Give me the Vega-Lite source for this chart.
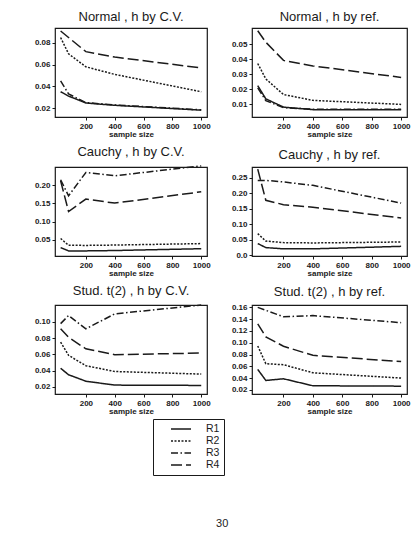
{
  "$schema": "https://vega.github.io/schema/vega-lite/v6.json",
  "padding": {"left": 33, "top": 10, "right": 5, "bottom": 5},
  "background": "white",
  "datasets": {
    "d": [
      {"panel": "nCV", "rule": "R1", "n": 25, "value": 0.035}, {"panel": "nCV", "rule": "R1", "n": 80, "value": 0.031}, {"panel": "nCV", "rule": "R1", "n": 200, "value": 0.0246}, {"panel": "nCV", "rule": "R1", "n": 400, "value": 0.0225}, {"panel": "nCV", "rule": "R1", "n": 1000, "value": 0.018},
      {"panel": "nCV", "rule": "R2", "n": 25, "value": 0.085}, {"panel": "nCV", "rule": "R2", "n": 80, "value": 0.070}, {"panel": "nCV", "rule": "R2", "n": 200, "value": 0.058}, {"panel": "nCV", "rule": "R2", "n": 400, "value": 0.051}, {"panel": "nCV", "rule": "R2", "n": 1000, "value": 0.035},
      {"panel": "nCV", "rule": "R3", "n": 25, "value": 0.045}, {"panel": "nCV", "rule": "R3", "n": 80, "value": 0.033}, {"panel": "nCV", "rule": "R3", "n": 200, "value": 0.025}, {"panel": "nCV", "rule": "R3", "n": 400, "value": 0.0228}, {"panel": "nCV", "rule": "R3", "n": 1000, "value": 0.0183},
      {"panel": "nCV", "rule": "R4", "n": 25, "value": 0.091}, {"panel": "nCV", "rule": "R4", "n": 80, "value": 0.085}, {"panel": "nCV", "rule": "R4", "n": 200, "value": 0.072}, {"panel": "nCV", "rule": "R4", "n": 400, "value": 0.067}, {"panel": "nCV", "rule": "R4", "n": 1000, "value": 0.057},
      {"panel": "nRef", "rule": "R1", "n": 25, "value": 0.0225}, {"panel": "nRef", "rule": "R1", "n": 80, "value": 0.0137}, {"panel": "nRef", "rule": "R1", "n": 200, "value": 0.0082}, {"panel": "nRef", "rule": "R1", "n": 400, "value": 0.0065}, {"panel": "nRef", "rule": "R1", "n": 1000, "value": 0.0065},
      {"panel": "nRef", "rule": "R2", "n": 25, "value": 0.0373}, {"panel": "nRef", "rule": "R2", "n": 80, "value": 0.027}, {"panel": "nRef", "rule": "R2", "n": 200, "value": 0.0166}, {"panel": "nRef", "rule": "R2", "n": 400, "value": 0.0127}, {"panel": "nRef", "rule": "R2", "n": 1000, "value": 0.010},
      {"panel": "nRef", "rule": "R3", "n": 25, "value": 0.021}, {"panel": "nRef", "rule": "R3", "n": 80, "value": 0.0125}, {"panel": "nRef", "rule": "R3", "n": 200, "value": 0.0078}, {"panel": "nRef", "rule": "R3", "n": 400, "value": 0.0068}, {"panel": "nRef", "rule": "R3", "n": 1000, "value": 0.0068},
      {"panel": "nRef", "rule": "R4", "n": 25, "value": 0.0592}, {"panel": "nRef", "rule": "R4", "n": 80, "value": 0.0515}, {"panel": "nRef", "rule": "R4", "n": 200, "value": 0.0394}, {"panel": "nRef", "rule": "R4", "n": 400, "value": 0.0357}, {"panel": "nRef", "rule": "R4", "n": 1000, "value": 0.028},
      {"panel": "cCV", "rule": "R1", "n": 25, "value": 0.029}, {"panel": "cCV", "rule": "R1", "n": 80, "value": 0.020}, {"panel": "cCV", "rule": "R1", "n": 200, "value": 0.020}, {"panel": "cCV", "rule": "R1", "n": 400, "value": 0.021}, {"panel": "cCV", "rule": "R1", "n": 1000, "value": 0.026},
      {"panel": "cCV", "rule": "R2", "n": 25, "value": 0.054}, {"panel": "cCV", "rule": "R2", "n": 80, "value": 0.0355}, {"panel": "cCV", "rule": "R2", "n": 200, "value": 0.035}, {"panel": "cCV", "rule": "R2", "n": 400, "value": 0.036}, {"panel": "cCV", "rule": "R2", "n": 1000, "value": 0.040},
      {"panel": "cCV", "rule": "R3", "n": 25, "value": 0.215}, {"panel": "cCV", "rule": "R3", "n": 80, "value": 0.171}, {"panel": "cCV", "rule": "R3", "n": 200, "value": 0.235}, {"panel": "cCV", "rule": "R3", "n": 400, "value": 0.226}, {"panel": "cCV", "rule": "R3", "n": 1000, "value": 0.253},
      {"panel": "cCV", "rule": "R4", "n": 25, "value": 0.212}, {"panel": "cCV", "rule": "R4", "n": 80, "value": 0.128}, {"panel": "cCV", "rule": "R4", "n": 200, "value": 0.162}, {"panel": "cCV", "rule": "R4", "n": 400, "value": 0.151}, {"panel": "cCV", "rule": "R4", "n": 1000, "value": 0.182},
      {"panel": "cRef", "rule": "R1", "n": 25, "value": 0.038}, {"panel": "cRef", "rule": "R1", "n": 80, "value": 0.025}, {"panel": "cRef", "rule": "R1", "n": 200, "value": 0.021}, {"panel": "cRef", "rule": "R1", "n": 400, "value": 0.021}, {"panel": "cRef", "rule": "R1", "n": 1000, "value": 0.029},
      {"panel": "cRef", "rule": "R2", "n": 25, "value": 0.070}, {"panel": "cRef", "rule": "R2", "n": 80, "value": 0.046}, {"panel": "cRef", "rule": "R2", "n": 200, "value": 0.041}, {"panel": "cRef", "rule": "R2", "n": 400, "value": 0.040}, {"panel": "cRef", "rule": "R2", "n": 1000, "value": 0.043},
      {"panel": "cRef", "rule": "R3", "n": 25, "value": 0.241}, {"panel": "cRef", "rule": "R3", "n": 80, "value": 0.241}, {"panel": "cRef", "rule": "R3", "n": 200, "value": 0.236}, {"panel": "cRef", "rule": "R3", "n": 400, "value": 0.225}, {"panel": "cRef", "rule": "R3", "n": 1000, "value": 0.168},
      {"panel": "cRef", "rule": "R4", "n": 25, "value": 0.277}, {"panel": "cRef", "rule": "R4", "n": 80, "value": 0.177}, {"panel": "cRef", "rule": "R4", "n": 200, "value": 0.163}, {"panel": "cRef", "rule": "R4", "n": 400, "value": 0.155}, {"panel": "cRef", "rule": "R4", "n": 1000, "value": 0.120},
      {"panel": "tCV", "rule": "R1", "n": 25, "value": 0.0428}, {"panel": "tCV", "rule": "R1", "n": 80, "value": 0.0348}, {"panel": "tCV", "rule": "R1", "n": 200, "value": 0.0268}, {"panel": "tCV", "rule": "R1", "n": 400, "value": 0.022}, {"panel": "tCV", "rule": "R1", "n": 1000, "value": 0.0216},
      {"panel": "tCV", "rule": "R2", "n": 25, "value": 0.075}, {"panel": "tCV", "rule": "R2", "n": 80, "value": 0.0588}, {"panel": "tCV", "rule": "R2", "n": 200, "value": 0.046}, {"panel": "tCV", "rule": "R2", "n": 400, "value": 0.0388}, {"panel": "tCV", "rule": "R2", "n": 1000, "value": 0.0356},
      {"panel": "tCV", "rule": "R3", "n": 25, "value": 0.098}, {"panel": "tCV", "rule": "R3", "n": 80, "value": 0.108}, {"panel": "tCV", "rule": "R3", "n": 200, "value": 0.0916}, {"panel": "tCV", "rule": "R3", "n": 400, "value": 0.110}, {"panel": "tCV", "rule": "R3", "n": 1000, "value": 0.121},
      {"panel": "tCV", "rule": "R4", "n": 25, "value": 0.0916}, {"panel": "tCV", "rule": "R4", "n": 80, "value": 0.081}, {"panel": "tCV", "rule": "R4", "n": 200, "value": 0.0668}, {"panel": "tCV", "rule": "R4", "n": 400, "value": 0.0596}, {"panel": "tCV", "rule": "R4", "n": 1000, "value": 0.0616},
      {"panel": "tRef", "rule": "R1", "n": 25, "value": 0.0547}, {"panel": "tRef", "rule": "R1", "n": 80, "value": 0.036}, {"panel": "tRef", "rule": "R1", "n": 200, "value": 0.0388}, {"panel": "tRef", "rule": "R1", "n": 400, "value": 0.027}, {"panel": "tRef", "rule": "R1", "n": 1000, "value": 0.0263},
      {"panel": "tRef", "rule": "R2", "n": 25, "value": 0.0945}, {"panel": "tRef", "rule": "R2", "n": 80, "value": 0.0644}, {"panel": "tRef", "rule": "R2", "n": 200, "value": 0.0627}, {"panel": "tRef", "rule": "R2", "n": 400, "value": 0.049}, {"panel": "tRef", "rule": "R2", "n": 1000, "value": 0.040},
      {"panel": "tRef", "rule": "R3", "n": 25, "value": 0.160}, {"panel": "tRef", "rule": "R3", "n": 80, "value": 0.155}, {"panel": "tRef", "rule": "R3", "n": 200, "value": 0.144}, {"panel": "tRef", "rule": "R3", "n": 400, "value": 0.146}, {"panel": "tRef", "rule": "R3", "n": 1000, "value": 0.134},
      {"panel": "tRef", "rule": "R4", "n": 25, "value": 0.132}, {"panel": "tRef", "rule": "R4", "n": 80, "value": 0.110}, {"panel": "tRef", "rule": "R4", "n": 200, "value": 0.094}, {"panel": "tRef", "rule": "R4", "n": 400, "value": 0.0786}, {"panel": "tRef", "rule": "R4", "n": 1000, "value": 0.068}
    ]
  },
  "title": {"text": "30", "orient": "bottom", "anchor": "middle", "offset": 42, "fontSize": 11, "fontWeight": "normal", "font": "Liberation Sans", "color": "#222"},
  "columns": 2,
  "spacing": {"row": 6, "column": 19},
  "resolve": {"scale": {"strokeDash": "shared", "x": "independent", "y": "independent"}, "legend": {"strokeDash": "shared"}},
  "concat": [
    {
      "title": "Normal , h by  C.V.",
      "width": 152, "height": 89,
      "data": {"name": "d"},
      "transform": [{"filter": "datum.panel === 'nCV'"}],
      "mark": {"type": "line", "color": "#1a1a1a", "strokeWidth": 1.5},
      "encoding": {
        "x": {"field": "n", "type": "quantitative", "scale": {"domain": [-14, 1040], "nice": false, "zero": false}, "axis": {"values": [200, 400, 600, 800, 1000], "format": "d", "title": "sample size"}},
        "y": {"field": "value", "type": "quantitative", "scale": {"domain": [0.0117, 0.0938], "nice": false, "zero": false}, "axis": {"values": [0.02, 0.04, 0.06, 0.08], "format": ".2f", "title": null}},
        "strokeDash": {"field": "rule", "type": "nominal", "scale": {"domain": ["R1", "R2", "R3", "R4"], "range": [[1, 0], [2, 1.5], [7, 2.5, 1.5, 2.5], [11, 4]]},
          "legend": {"title": null, "orient": "none", "legendX": 98, "legendY": 391, "symbolType": "M-2,0H2", "symbolSize": 100, "symbolStrokeWidth": 1.5, "symbolStrokeColor": "#1a1a1a", "labelFontSize": 10.5, "labelFont": "Liberation Sans", "labelColor": "#1a1a1a", "strokeColor": "#1a1a1a", "padding": 4, "rowPadding": -1, "symbolOffset": 18, "labelOffset": 19, "labelBaseline": "middle"}}
      }
    },
    {
      "title": "Normal , h by  ref.",
      "width": 155, "height": 89,
      "data": {"name": "d"},
      "transform": [{"filter": "datum.panel === 'nRef'"}],
      "mark": {"type": "line", "color": "#1a1a1a", "strokeWidth": 1.5},
      "encoding": {
        "x": {"field": "n", "type": "quantitative", "scale": {"domain": [-14, 1040], "nice": false, "zero": false}, "axis": {"values": [200, 400, 600, 800, 1000], "format": "d", "title": "sample size"}},
        "y": {"field": "value", "type": "quantitative", "scale": {"domain": [0.0016, 0.061], "nice": false, "zero": false}, "axis": {"values": [0.01, 0.02, 0.03, 0.04, 0.05], "format": ".2f", "title": null}},
        "strokeDash": {"field": "rule", "type": "nominal"}
      }
    },
    {
      "title": "Cauchy , h by  C.V.",
      "width": 152, "height": 89,
      "data": {"name": "d"},
      "transform": [{"filter": "datum.panel === 'cCV'"}],
      "mark": {"type": "line", "color": "#1a1a1a", "strokeWidth": 1.5},
      "encoding": {
        "x": {"field": "n", "type": "quantitative", "scale": {"domain": [-14, 1040], "nice": false, "zero": false}, "axis": {"values": [200, 400, 600, 800, 1000], "format": "d", "title": "sample size"}},
        "y": {"field": "value", "type": "quantitative", "scale": {"domain": [0.006, 0.25], "nice": false, "zero": false}, "axis": {"values": [0.05, 0.10, 0.15, 0.20], "format": ".2f", "title": null}},
        "strokeDash": {"field": "rule", "type": "nominal"}
      }
    },
    {
      "title": "Cauchy , h by  ref.",
      "width": 155, "height": 89,
      "data": {"name": "d"},
      "transform": [{"filter": "datum.panel === 'cRef'"}],
      "mark": {"type": "line", "color": "#1a1a1a", "strokeWidth": 1.5},
      "encoding": {
        "x": {"field": "n", "type": "quantitative", "scale": {"domain": [-14, 1040], "nice": false, "zero": false}, "axis": {"values": [200, 400, 600, 800, 1000], "format": "d", "title": "sample size"}},
        "y": {"field": "value", "type": "quantitative", "scale": {"domain": [-0.002, 0.284], "nice": false, "zero": false}, "axis": {"values": [0, 0.05, 0.10, 0.15, 0.20, 0.25], "labelExpr": "datum.value === 0 ? '0.0' : format(datum.value, '.2f')", "title": null}},
        "strokeDash": {"field": "rule", "type": "nominal"}
      }
    },
    {
      "title": "Stud. t(2) , h by  C.V.",
      "width": 152, "height": 89,
      "data": {"name": "d"},
      "transform": [{"filter": "datum.panel === 'tCV'"}],
      "mark": {"type": "line", "color": "#1a1a1a", "strokeWidth": 1.5},
      "encoding": {
        "x": {"field": "n", "type": "quantitative", "scale": {"domain": [-14, 1040], "nice": false, "zero": false}, "axis": {"values": [200, 400, 600, 800, 1000], "format": "d", "title": "sample size"}},
        "y": {"field": "value", "type": "quantitative", "scale": {"domain": [0.011, 0.121], "nice": false, "zero": false}, "axis": {"values": [0.02, 0.04, 0.06, 0.08, 0.10], "format": ".2f", "title": null}},
        "strokeDash": {"field": "rule", "type": "nominal"}
      }
    },
    {
      "title": "Stud. t(2) , h by  ref.",
      "width": 155, "height": 89,
      "data": {"name": "d"},
      "transform": [{"filter": "datum.panel === 'tRef'"}],
      "mark": {"type": "line", "color": "#1a1a1a", "strokeWidth": 1.5},
      "encoding": {
        "x": {"field": "n", "type": "quantitative", "scale": {"domain": [-14, 1040], "nice": false, "zero": false}, "axis": {"values": [200, 400, 600, 800, 1000], "format": "d", "title": "sample size"}},
        "y": {"field": "value", "type": "quantitative", "scale": {"domain": [0.013, 0.164], "nice": false, "zero": false}, "axis": {"values": [0.02, 0.04, 0.06, 0.08, 0.10, 0.12, 0.14, 0.16], "format": ".2f", "title": null}},
        "strokeDash": {"field": "rule", "type": "nominal"}
      }
    }
  ],
  "config": {
    "view": {"stroke": "#1a1a1a", "strokeWidth": 1.2},
    "axis": {"domain": false, "grid": false, "ticks": true, "tickSize": 3, "tickColor": "#1a1a1a", "labelFont": "Liberation Sans", "labelFontSize": 8, "labelFontWeight": "bold", "labelColor": "#1a1a1a", "labelPadding": 2, "titleFont": "Liberation Sans", "titleFontSize": 8, "titleFontWeight": "bold", "titleColor": "#1a1a1a", "titlePadding": 0, "labelFlush": false, "labelOverlap": false},
    "title": {"font": "Liberation Sans", "fontSize": 13, "fontWeight": "normal", "color": "#1a1a1a", "offset": 4}
  }
}
